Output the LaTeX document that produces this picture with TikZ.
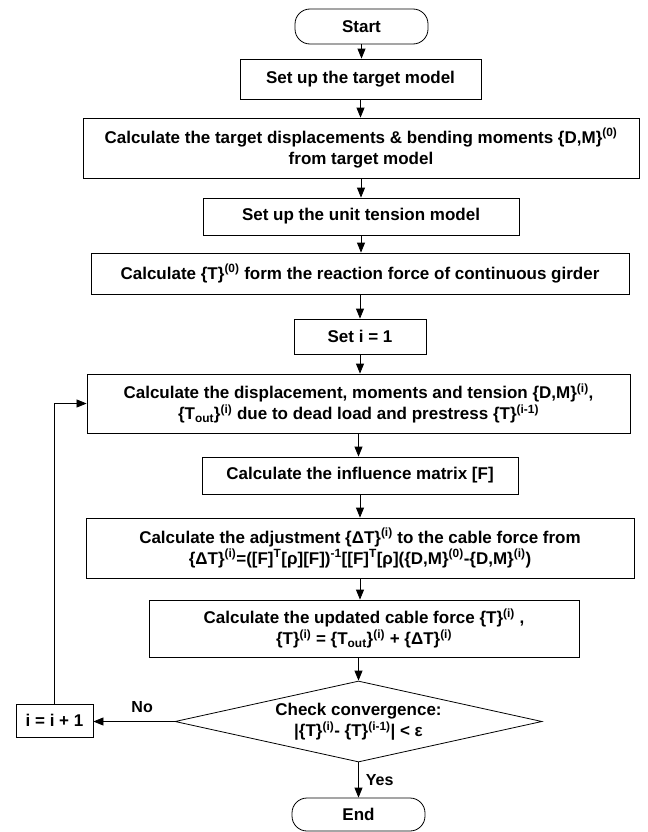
\documentclass[tikz,border=0pt]{standalone}
\usepackage{fontspec}
\setmainfont{Liberation Sans}
\usetikzlibrary{arrows.meta,shapes.geometric}
\newcommand{\sps}[1]{\textsuperscript{#1}}
\newcommand{\sbs}[1]{\textsubscript{#1}}
\begin{document}
\begin{tikzpicture}[x=1bp,y=-1bp,
  every node/.style={font=\bfseries\fontsize{17bp}{21bp}\selectfont, align=center, inner sep=0pt},
  box/.style={draw, line width=0.8bp, rectangle},
  term/.style={draw, line width=0.8bp, rounded corners=15bp},
  dec/.style={draw, line width=0.8bp, diamond, shape aspect=4.5},
  arr/.style={line width=0.8bp, -{Triangle[length=10bp,width=8bp]}},
  lbl/.style={font=\bfseries\fontsize{16bp}{19bp}\selectfont}
]
\useasboundingbox (0,0) rectangle (648,832);

\node[term, minimum width=133bp, minimum height=35bp] (start) at (361.5,26.5) {Start};
\node[box, minimum width=241bp, minimum height=40bp] (b2) at (360.5,79) {Set up the target model};
\node[box, minimum width=556bp, minimum height=60bp] (b3) at (361,148)
  {Calculate the target displacements \& bending moments \{D,M\}\sps{(0)}\\from target model};
\node[box, minimum width=316bp, minimum height=37bp] (b4) at (361,216.5) {Set up the unit tension model};
\node[box, minimum width=538bp, minimum height=41bp] (b5) at (360,273.5)
  {Calculate \{T\}\sps{(0)} form the reaction force of continuous girder};
\node[box, minimum width=132bp, minimum height=35bp] (b6) at (360,336.5) {Set i = 1};
\node[box, minimum width=543bp, minimum height=59bp] (b7) at (358.5,403.5)
  {Calculate the displacement, moments and tension \{D,M\}\sps{(i)},\\
   \{T\sbs{out}\}\sps{(i)} due to dead load and prestress \{T\}\sps{(i-1)}};
\node[box, minimum width=316bp, minimum height=37bp] (b8) at (360,475.5) {Calculate the influence matrix [F]};
\node[box, minimum width=548bp, minimum height=60bp] (b9) at (360,548)
  {Calculate the adjustment \{ΔT\}\sps{(i)} to the cable force from\\
   \{ΔT\}\sps{(i)}=([F]\sps{T}[ρ][F])\sps{-1}[[F]\sps{T}[ρ](\{D,M\}\sps{(0)}-\{D,M\}\sps{(i)})};
\node[box, minimum width=430bp, minimum height=57bp] (b10) at (364,628.5)
  {Calculate the updated cable force \{T\}\sps{(i)} ,\\
   \{T\}\sps{(i)} = \{T\sbs{out}\}\sps{(i)} + \{ΔT\}\sps{(i)}};
\node[dec, minimum width=367bp, minimum height=81bp] (chk) at (358.5,721.5)
  {Check convergence:\\ |\{T\}\sps{(i)}- \{T\}\sps{(i-1)}| < ε};
\node[term, minimum width=133bp, minimum height=33bp] (end) at (358.5,814.5) {End};
\node[box, minimum width=77bp, minimum height=33bp] (inc) at (54.5,720.5) {i = i + 1};

\draw[arr] (start.south) -- (start.south |- b2.north);
\draw[arr] (b2.south) -- (b2.south |- b3.north);
\draw[arr] (b3.south) -- (b3.south |- b4.north);
\draw[arr] (b4.south) -- (b4.south |- b5.north);
\draw[arr] (b5.south) -- (b5.south |- b6.north);
\draw[arr] (b6.south) -- (b6.south |- b7.north);
\draw[arr] (b7.south) -- (b7.south |- b8.north);
\draw[arr] (b8.south) -- (b8.south |- b9.north);
\draw[arr] (b9.south) -- (b9.south |- b10.north);
\draw[arr] (chk.north |- b10.south) -- (chk.north);
\draw[arr] (chk.south) -- (chk.south |- end.north) node[lbl, pos=0.5, right=7bp] {Yes};
\draw[arr] (chk.west) -- (chk.west -| inc.east) node[lbl, pos=0.4, above=8bp] {No};
\draw[arr] (inc.north) |- (b7.west);
\end{tikzpicture}
\end{document}
